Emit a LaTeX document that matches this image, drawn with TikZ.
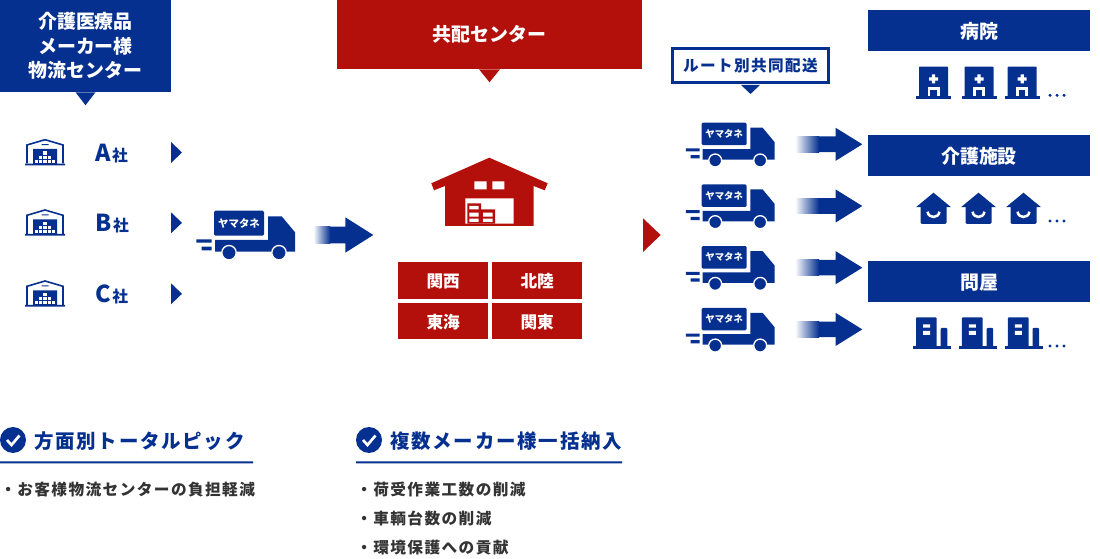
\documentclass[tikz,border=0pt]{standalone}
\usepackage{fontspec}
\setmainfont{Noto Sans CJK JP}
\newfontfamily\widefont[LetterSpace=9]{Noto Sans CJK JP}
\definecolor{navyblue}{HTML}{05308F}
\definecolor{darkred}{HTML}{B3100B}
\definecolor{bodygray}{HTML}{333333}
\tikzset{titlebar/.style = {fill=navyblue, text=white, inner sep=0, text depth=0pt, minimum width=166.5pt, minimum height=30.75pt, font=\fontsize{14.2}{16}\selectfont\bfseries}}
\tikzset{areatile/.style = {fill=darkred, text=white, inner sep=0, text depth=0pt, minimum width=67.7pt, minimum height=27.4pt, font=\fontsize{12.5}{15}\selectfont\bfseries}}
\tikzset{headtext/.style = {anchor=west, inner sep=0, text=navyblue, font=\fontsize{14.6}{16}\widefont\bfseries}}
\tikzset{listtext/.style = {anchor=west, inner sep=0, text=bodygray, font=\fontsize{11.75}{14}\widefont\bfseries}}
\tikzset{truck/.pic = {
  \fill [navyblue, rounded corners=1pt] (0,0) rectangle (50,25);
  \fill [navyblue] (54,5.6) -- (67.7,5.6) -- (81,21.6) -- (81,41) -- (1,41) -- (1,29.3) -- (54,29.3) -- cycle;
  \fill [navyblue, draw=white, line width=1pt] (15,42) circle (7.2) (65,42) circle (7.2);
  \fill [navyblue] (-17.7,28.6) rectangle (-2.3,32) (-12.3,36) rectangle (-2.3,39.6);
  \node [transform shape, text=white, inner sep=0, font=\fontsize{7.8}{9}\selectfont\bfseries] at (25,12.5) {ヤマタネ};
}}
\tikzset{bigarrow/.pic = {
  \shade [left color=white, right color=navyblue] (0,-8.3) rectangle (17,8.3);
  \fill [navyblue] (17,-8.3) -- (32,-8.3) -- (32,-17.7) -- (60,0) -- (32,17.7) -- (32,8.3) -- (17,8.3) -- cycle;
}}
\tikzset{routearrow/.pic = {
  \shade [left color=white, right color=navyblue] (0,-7.8) rectangle (24,7.8);
  \fill [navyblue] (24,-7.8) -- (40.7,-7.8) -- (40.7,-16.5) -- (67.3,0) -- (40.7,16.5) -- (40.7,7.8) -- (24,7.8) -- cycle;
}}
\tikzset{depot/.pic = {
  \draw [navyblue, line width=1.2pt] (-18,24.5) -- (-18,6) -- (0,0.7) -- (18,6) -- (18,24.5);
  \fill [navyblue] (-20,24.7) rectangle (20,26.3) (-12,10) rectangle (12,24.7) (-3.5,5.2) rectangle (3.5,6.2);
  \fill [white] (-1.6,12.5) rectangle (1.6,16);
  \foreach \i in {-1,0,1} \fill [white] (4.2*\i-1.6,16.6) rectangle (4.2*\i+1.6,20);
  \foreach \i in {-2,...,2} \fill [white] (4.2*\i-1.6,20.7) rectangle (4.2*\i+1.6,24.2);
}}
\tikzset{hospital/.pic = {
  \fill [navyblue, rounded corners=0.5pt] (-14.5,-2) rectangle (14.5,-32);
  \fill [navyblue] (-17.5,-2.7) rectangle (17.5,0);
  \fill [white] (-4.5,-21.4) rectangle (4.5,-18) (-1.7,-24.2) rectangle (1.7,-15.2);
  \fill [white] (-6,-2.7) rectangle (6,-11.5);
  \fill [navyblue] (-3.2,-2.7) rectangle (3.2,-8.3);
}}
\tikzset{carehome/.pic = {
  \fill [navyblue] (0,0) -- (17.5,14.5) -- (-17.5,14.5) -- cycle;
  \fill [navyblue, rounded corners=1pt] (-13,10) rectangle (13,31.3);
  \draw [white, line width=1.9pt] (-6,19) .. controls (-5,26) and (5,26) .. (6,19);
}}
\tikzset{wholesaler/.pic = {
  \fill [navyblue] (-19.3,-3.3) rectangle (19,0);
  \fill [navyblue, rounded corners=0.7pt] (-16,-1) rectangle (4.7,-32) (8.7,-1) rectangle (15.3,-21.3);
  \fill [white] (-9,-25) rectangle (-2,-21.6) (-9,-18.3) rectangle (-2,-14.3);
}}
\tikzset{moredots/.pic = {
  \fill [navyblue] (0,0) circle (1.7) (7,0) circle (1.7) (14,0) circle (1.7);
}}
\begin{document}
\begin{tikzpicture}[x=0.75pt, y=-0.75pt]
  \useasboundingbox (0,0) rectangle (1100,559);
  % top labels
  \node (makerbox) [fill=navyblue, text=white, inner sep=0, minimum width=128.25pt, minimum height=69pt, align=center,
    font=\fontsize{14.2}{18.4}\selectfont\bfseries] at (85.5,46) {介護医療品\\メーカー様\\物流センター};
  \fill [navyblue] (makerbox.south) ++(-10,0) -- ++(20,0) -- ++(-10,13) -- cycle;
  \node (centerbox) [fill=darkred, text=white, inner sep=0, minimum width=228.75pt, minimum height=51.75pt,
    font=\fontsize{14.2}{16}\selectfont\bfseries] at (489.5,34.5) {共配センター};
  \fill [darkred] (centerbox.south) ++(-10.5,0) -- ++(21,0) -- ++(-10.5,13) -- cycle;
  \node (routebox) [draw=navyblue, line width=2.2pt, fill=white, text=navyblue, inner sep=0, minimum width=117pt, minimum height=25.5pt,
    font=\fontsize{11.7}{15}\widefont\bfseries] at (750.5,65.5) {ルート別共同配送};
  \fill [navyblue] (routebox.south) ++(-9.5,1) -- ++(19,0) -- ++(-9.5,9) -- cycle;
  % makers
  \foreach \name/\company/\ypos in {a/A/139, b/B/209.3, c/C/280.3} {
    \pic at (45,\ypos) {depot};
    \node (label\name) [anchor=base west, inner sep=0, text=navyblue, font=\fontsize{17.5}{18}\selectfont\bfseries] at (95.5,\ypos+22.3)
      {\company\kern0.8pt\fontsize{11.8}{14}\selectfont 社};
    \fill [navyblue] (171,\ypos+3) -- (182,\ypos+13.5) -- (171,\ypos+24) -- cycle;
  }
  \pic at (214,210.7) {truck};
  \pic at (313.3,235) {bigarrow};
  % shared centre
  \fill [darkred] (489.3,157.7) -- (547.7,183.3) -- (544.7,190.3) -- (533.7,186) -- (533.7,226) -- (445,226) -- (445,186) -- (434,190.3) -- (431.3,183.3) -- cycle;
  \fill [white] (474.3,181.3) rectangle (486.7,189.3) (492.3,181.3) rectangle (504.3,189.3) (465.3,198.3) rectangle (513.7,223.7);
  \fill [darkred] (467.3,203.3) rectangle (481,223.7) (481,209.3) rectangle (495,223.7);
  \fill [white] (469.3,206) rectangle (478.7,209.3) (469.3,212.7) rectangle (478.7,216.7) (469.3,218.7) rectangle (478.7,222)
    (483,212.7) rectangle (492.7,216.7) (483,218.7) rectangle (492.7,222);
  \node (kansai) [areatile] at (443.2,280.4) {関西};
  \node (hokuriku) [areatile] at (537.2,280.4) {北陸};
  \node (tokai) [areatile] at (443.2,320.9) {東海};
  \node (kanto) [areatile] at (537.2,320.9) {関東};
  \fill [darkred] (643,218.3) -- (660.7,235) -- (643,252) -- cycle;
  % delivery routes
  \foreach \ypos in {0,61.7,123.4,185.1} {
    \pic [scale=0.9] at (701.7,122.7+\ypos) {truck};
    \pic at (795,144.3+\ypos) {routearrow};
  }
  % destinations
  \node (hospitalbar) [titlebar] at (979,30.5) {病院};
  \node (carebar) [titlebar] at (979,155.5) {介護施設};
  \node (wholesalebar) [titlebar] at (979,281.5) {問屋};
  \foreach \xpos in {0,45.5,88.7} {
    \pic at (933.5+\xpos,98.7) {hospital};
  }
  \foreach \xpos in {0,45,90} {
    \pic at (933.5+\xpos,192.7) {carehome};
    \pic at (932+\xpos+\xpos*0.02,349.3) {wholesaler};
  }
  \pic at (1050,95.3) {moredots};
  \pic at (1050,221) {moredots};
  \pic at (1050,346) {moredots};
  % notes
  \fill [navyblue] (13,440) circle (13) (369,440) circle (13);
  \draw [white, line width=2pt] (7,440) -- (11.5,445) -- (19.5,435.5);
  \draw [white, line width=2pt] (363,440) -- (367.5,445) -- (375.5,435.5);
  \node (headleft) [headtext] at (34,441) {方面別トータルピック};
  \node (headright) [headtext] at (390,441) {複数メーカー様一括納入};
  \fill [navyblue] (0,461.5) rectangle (253,463.5) (356,461.5) rectangle (622,463.5);
  \node (listleft) [listtext] at (0,490) {・お客様物流センターの負担軽減};
  \node (listone) [listtext] at (356,490) {・荷受作業工数の削減};
  \node (listtwo) [listtext] at (356,519) {・車輌台数の削減};
  \node (listthree) [listtext] at (356,548) {・環境保護への貢献};
\end{tikzpicture}
\end{document}
